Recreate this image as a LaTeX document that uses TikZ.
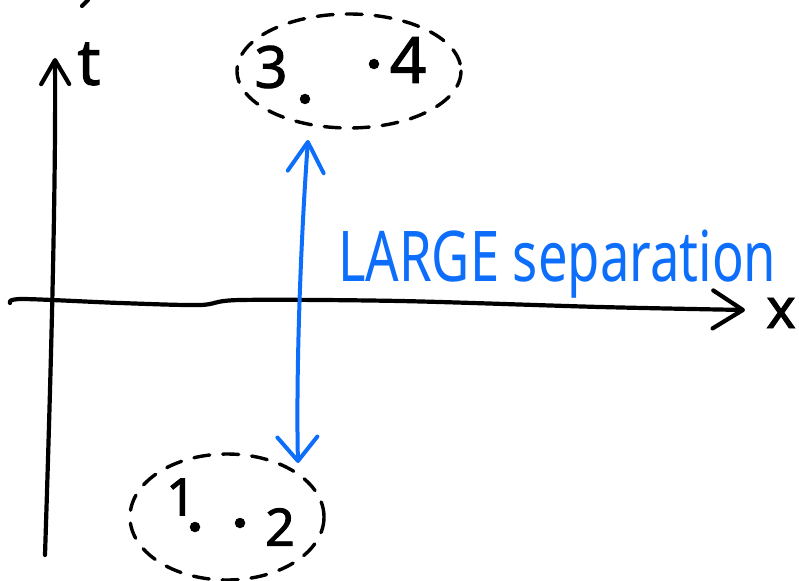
\documentclass[tikz,border=0pt]{standalone}
\usepackage{fontspec}
\usepackage{graphicx}
\setmainfont{Noto Sans}
\newfontfamily\hand{Noto Sans}[FakeBold=1.6]
\usetikzlibrary{arrows.meta}
\definecolor{penblue}{RGB}{12,110,250}
\tikzset{
  axis/.style={line width=4.2pt, line cap=round, line join=round, black},
  ring/.style={line width=3.4pt, line cap=round, dash pattern=on 16pt off 13pt, black},
  bluearrow/.style={line width=4pt, line cap=round, line join=round, penblue},
  lbl/.style={inner sep=0pt, anchor=center, black, font=\hand},
  pt/.style={circle, fill=black, inner sep=0pt, minimum size=10.5pt}
}
\begin{document}
\begin{tikzpicture}[x=1pt,y=-1pt]
\useasboundingbox (0,0) rectangle (799,580);
% axes
\coordinate (tbot) at (45,555);
\coordinate (ttop) at (55,58);
\coordinate (xleft) at (10,303);
\coordinate (xtip) at (745,310);
\draw[axis, -{Straight Barb[length=24pt,width=28pt,round]}] (tbot) .. controls (50,400) and (56,200) .. (ttop);
\draw[axis, -{Straight Barb[length=30pt,width=38pt,round]}] plot[smooth, tension=0.5] coordinates {(xleft) (22,299) (120,303) (200,305) (240,300) (400,301) (600,307) (xtip)};
\draw[axis] (82,6) -- (88,0);
\node[lbl] (tlab) at (89,64) {\fontsize{64}{64}\selectfont t};
\node[lbl] (xlab) at (781,313) {\fontsize{56}{56}\selectfont x};
% top group
\draw[ring] (349,71) ellipse [x radius=112, y radius=57];
\node[lbl] (n3) at (271,67) {\fontsize{58}{58}\selectfont 3};
\node[lbl] (n4) at (408,60) {\fontsize{64}{64}\selectfont 4};
\node[pt] (p3) at (305,99) {};
\node[pt] (p4) at (374,64) {};
% bottom group
\draw[ring] (227,517) ellipse [x radius=97, y radius=63];
\node[lbl] (n1) at (181,497) {\fontsize{52}{52}\selectfont 1};
\node[lbl] (n2) at (280,527) {\fontsize{52}{52}\selectfont 2};
\node[pt] (p1) at (195,527) {};
\node[pt] (p2) at (240,523) {};
% separation arrow
\coordinate (atop) at (308,140);
\coordinate (abot) at (298,463);
\draw[bluearrow, {Straight Barb[length=30pt,width=36pt,round]}-{Straight Barb[length=24pt,width=40pt,round]}] (atop) .. controls (300,250) and (296,380) .. (abot);
\node[inner sep=0pt, anchor=base west, text=penblue] (sep) at (338,281) {\scalebox{0.75}[1]{\fontsize{70}{70}\selectfont LARGE separation}};
\end{tikzpicture}
\end{document}
